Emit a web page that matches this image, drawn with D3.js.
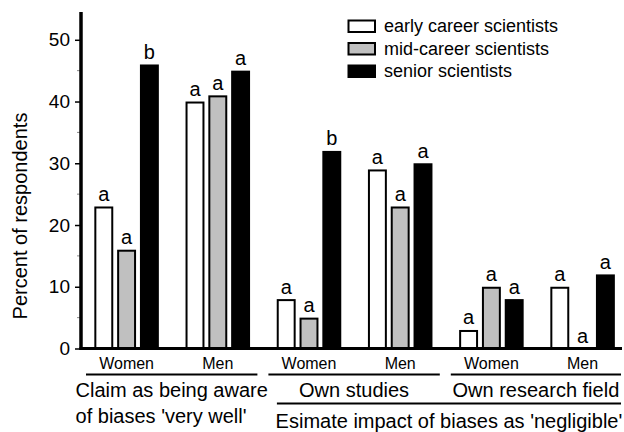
<!DOCTYPE html>
<html>
<head>
<meta charset="utf-8">
<script src="https://cdn.jsdelivr.net/npm/d3@7"></script>
<style>
  body { margin: 0; background: #fff; }
  svg { display: block; font-family: "Liberation Sans", Arial, sans-serif; }
</style>
</head>
<body>
<div id="chart"></div>
<script>
// Data
var subgroups = ["Women", "Men", "Women", "Men", "Women", "Men"];
var series = ["early career scientists", "mid-career scientists", "senior scientists"];
var early = [23, 40, 8, 29, 3, 10];
var mid = [16, 41, 5, 23, 10, 0];
var senior = [46, 45, 32, 30, 8, 12];
var earlyLetters = ["a", "a", "a", "a", "a", "a"];
var midLetters = ["a", "a", "a", "a", "a", "a"];
var seniorLetters = ["b", "a", "b", "a", "a", "a"];
var groupLabels = [["Claim as being aware", "of biases 'very well'"], ["Own studies"], ["Own research field"]];
var outerLabel = "Esimate impact of biases as 'negligible'";
var yTicks = [0, 10, 20, 30, 40, 50];
var yMinor = [5, 15, 25, 35, 45];
var colors = ["#ffffff", "#c0c0c0", "#000000"];

var width = 624, height = 432;

var svg = d3.select("#chart").append("svg")
    .attr("width", width)
    .attr("height", height);

var y = d3.scaleLinear().domain([0, 54.5]).range([348.5, 12]);

var x = d3.scaleBand()
    .domain(d3.range(subgroups.length))
    .range([81, 628.2]);

var xs = d3.scaleBand()
    .domain(d3.range(series.length))
    .range([0, x.bandwidth()])
    .paddingInner(0.17)
    .paddingOuter(0.585);

var values = [early, mid, senior];
var letters = [earlyLetters, midLetters, seniorLetters];

var bars = [];
subgroups.forEach(function(g, i) {
    series.forEach(function(s, j) {
        bars.push({ g: i, s: j, v: values[j][i], l: letters[j][i] });
    });
});

// Bars
var sw = 2;
svg.append("g").selectAll("rect")
    .data(bars.filter(function(d) { return d.v > 0; }))
    .enter().append("rect")
    .attr("x", function(d) { return x(d.g) + xs(d.s) + sw / 2; })
    .attr("width", xs.bandwidth() - sw)
    .attr("y", function(d) { return y(d.v) + sw / 2; })
    .attr("height", function(d) { return y(0) - y(d.v) - sw / 2; })
    .attr("fill", function(d) { return colors[d.s]; })
    .attr("stroke", "#000")
    .attr("stroke-width", sw);

// Significance letters
svg.append("g").selectAll("text")
    .data(bars)
    .enter().append("text")
    .attr("x", function(d) { return x(d.g) + xs(d.s) + xs.bandwidth() / 2; })
    .attr("y", function(d) { return y(d.v) - 5.5; })
    .attr("text-anchor", "middle")
    .style("font-size", "20px")
    .text(function(d) { return d.l; });

// Y axis
var yAxis = d3.axisLeft(y).tickValues(yTicks).tickSize(6).tickPadding(5);
var ga = svg.append("g").attr("transform", "translate(81,0)").call(yAxis);
ga.select(".domain").remove();
ga.selectAll(".tick line").attr("stroke", "#000").attr("stroke-width", 1.5);
ga.selectAll(".tick text")
    .attr("fill", "#000")
    .style("font-size", "19px")
    .style("font-family", "'Liberation Sans', Arial, sans-serif");

svg.append("g").selectAll("line")
    .data(yMinor)
    .enter().append("line")
    .attr("x1", 77).attr("x2", 81)
    .attr("y1", function(d) { return y(d); })
    .attr("y2", function(d) { return y(d); })
    .attr("stroke", "#888")
    .attr("stroke-width", 1);

svg.append("line")
    .attr("x1", 81).attr("x2", 81)
    .attr("y1", y.range()[1]).attr("y2", y(0) + 1.5)
    .attr("stroke", "#000").attr("stroke-width", 3.5);

svg.append("line")
    .attr("x1", 79.5).attr("x2", 622)
    .attr("y1", y(0)).attr("y2", y(0))
    .attr("stroke", "#000").attr("stroke-width", 3);

// Y label
svg.append("text")
    .attr("transform", "translate(27,216) rotate(-90)")
    .attr("text-anchor", "middle")
    .style("font-size", "20px")
    .text("Percent of respondents");

// Women / Men labels
svg.append("g").selectAll("text")
    .data(subgroups)
    .enter().append("text")
    .attr("x", function(d, i) { return x(i) + x.bandwidth() / 2; })
    .attr("y", 368.5)
    .attr("text-anchor", "middle")
    .style("font-size", "16px")
    .text(function(d) { return d; });

// Group lines and labels
groupLabels.forEach(function(lines, k) {
    var x0 = Math.max(83, x(2 * k) + 5);
    var x1 = Math.min(621, x(2 * k + 1) + x.bandwidth() - 6);
    var cx = (x0 + x1) / 2;
    svg.append("line")
        .attr("x1", x0).attr("x2", x1)
        .attr("y1", 374.5).attr("y2", 374.5)
        .attr("stroke", "#000").attr("stroke-width", 2);
    var t0 = svg.append("text")
        .attr("x", cx).attr("y", 397)
        .attr("text-anchor", "middle")
        .style("font-size", "20px")
        .text(lines[0]);
    if (lines.length > 1) {
        var left = cx - t0.node().getComputedTextLength() / 2;
        svg.append("text")
            .attr("x", left).attr("y", 422.5)
            .style("font-size", "20px")
            .text(lines[1]);
    }
});

// Outer bracket for the two 'negligible' groups
var ox0 = x(2) + 13.5;
var ox1 = 621;
svg.append("line")
    .attr("x1", ox0).attr("x2", ox1)
    .attr("y1", 403.5).attr("y2", 403.5)
    .attr("stroke", "#000").attr("stroke-width", 2);
svg.append("text")
    .attr("x", (ox0 + ox1) / 2).attr("y", 428)
    .attr("text-anchor", "middle")
    .style("font-size", "20px")
    .text(outerLabel);

// Legend
var legend = svg.append("g").attr("transform", "translate(348,20)");
var li = legend.selectAll("g")
    .data(series)
    .enter().append("g")
    .attr("transform", function(d, i) { return "translate(0," + (i * 22.5) + ")"; });
li.append("rect")
    .attr("x", 0.5).attr("y", 0.5)
    .attr("width", 26.5).attr("height", 11.5)
    .attr("fill", function(d, i) { return colors[i]; })
    .attr("stroke", "#000")
    .attr("stroke-width", 2);
li.append("text")
    .attr("x", 36).attr("y", 12)
    .style("font-size", "18px")
    .text(function(d) { return d; });
</script>
</body>
</html>
